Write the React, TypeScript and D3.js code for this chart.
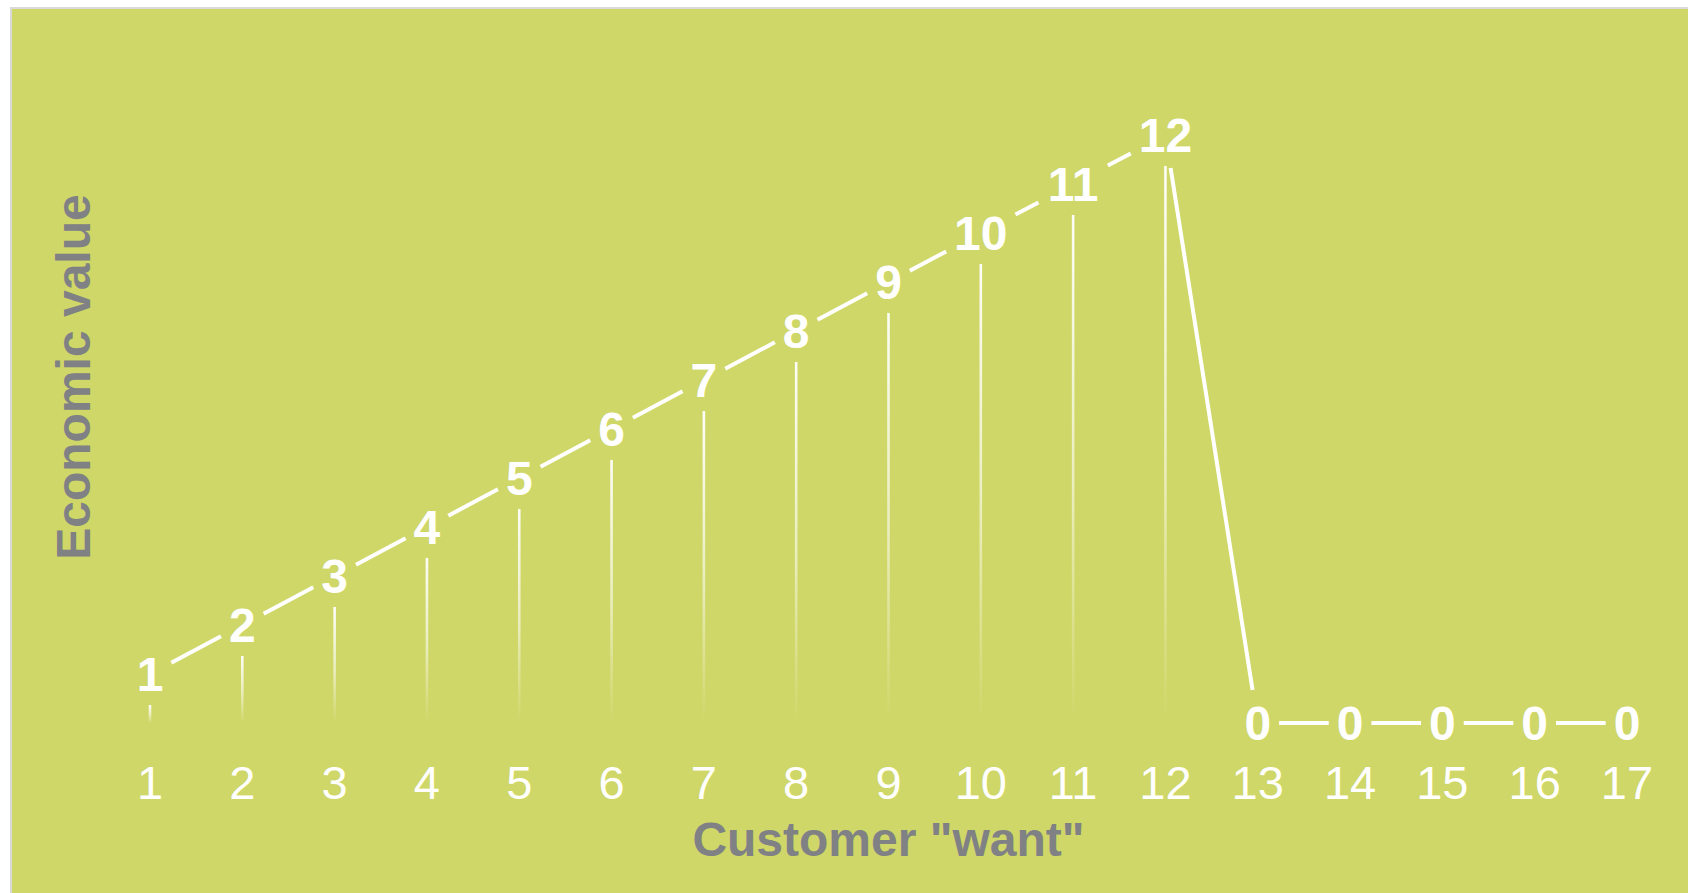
import React from "react";
import * as d3 from "d3";

// Customer "want" positions along the x axis
const wants: number[] = [1, 2, 3, 4, 5, 6, 7, 8, 9, 10, 11, 12, 13, 14, 15, 16, 17];
// Economic value delivered at each want
const values: number[] = [1, 2, 3, 4, 5, 6, 7, 8, 9, 10, 11, 12, 0, 0, 0, 0, 0];
const xTickLabels: string[] = wants.map((w) => String(w));
const xTitle = 'Customer "want"';
const yTitle = "Economic value";

const W = 1688;
const H = 893;
const BG = "#cfd768";
const TITLE = "#7f8184";
const FONT = "'Liberation Sans', Arial, Helvetica, sans-serif";

const plot = { left: 150, right: 1627, top: 31, bottom: 723 };
const valueFont = 48;
const tickFont = 47;
const titleFont = 48;

const x = d3.scaleLinear().domain([1, 17]).range([plot.left, plot.right]);
const y = d3.scaleLinear().domain([0, 12]).range([plot.bottom, 135]);

type Pt = { w: number; v: number; px: number; py: number; label: string };
const points: Pt[] = wants.map((w, i) => ({
  w,
  v: values[i],
  px: x(w),
  py: y(values[i]),
  label: String(values[i]),
}));

// half-extent of the gap kept clear around a value label
const gapX = (label: string) => (label.length * 0.556 * valueFont) / 2 + 8;
const gapY = 33;

function trimAt(p: Pt, ux: number, uy: number) {
  const a = Math.abs(ux) > 1e-6 ? gapX(p.label) / Math.abs(ux) : Infinity;
  const b = Math.abs(uy) > 1e-6 ? gapY / Math.abs(uy) : Infinity;
  return Math.min(a, b);
}

const segments = d3.pairs(points).map(([p, q]) => {
  const dx = q.px - p.px;
  const dy = q.py - p.py;
  const len = Math.hypot(dx, dy);
  const ux = dx / len;
  const uy = dy / len;
  const t0 = trimAt(p, ux, uy);
  const t1 = trimAt(q, ux, uy);
  return {
    key: `${p.w}-${q.w}`,
    x1: p.px + ux * t0,
    y1: p.py + uy * t0,
    x2: q.px - ux * t1,
    y2: q.py - uy * t1,
  };
});

const dropW = 2.6;
const dropGap = 31;

export default function App() {
  return (
    <svg
      width={W}
      height={H}
      style={{ position: "absolute", left: 0, top: 0, display: "block" }}
      xmlns="http://www.w3.org/2000/svg"
    >
      <defs>
        <linearGradient id="dropFade" x1="0" y1="0" x2="0" y2="1">
          <stop offset="0" stopColor="#ffffff" stopOpacity={0.95} />
          <stop offset="0.55" stopColor="#ffffff" stopOpacity={0.55} />
          <stop offset="1" stopColor="#ffffff" stopOpacity={0} />
        </linearGradient>
      </defs>
      <rect x={0} y={0} width={W} height={H} fill="#ffffff" />
      <rect x={11} y={8} width={W + 20} height={H + 20} fill={BG} stroke="#d9d9d9" strokeWidth={2} />

      {/* drop lines from each value down to the baseline */}
      {points
        .filter((p) => p.v > 0)
        .map((p) => {
          const top = p.py + dropGap;
          const bottom = y(0);
          return (
            <rect
              key={`drop-${p.w}`}
              x={p.px - dropW / 2}
              y={top}
              width={dropW}
              height={Math.max(0, bottom - top)}
              fill="url(#dropFade)"
            />
          );
        })}

      {/* value line, broken around each label */}
      {segments.map((s) => (
        <line
          key={s.key}
          x1={s.x1}
          y1={s.y1}
          x2={s.x2}
          y2={s.y2}
          stroke="#ffffff"
          strokeWidth={4}
          strokeLinecap="butt"
        />
      ))}

      {/* value labels */}
      {points.map((p) => (
        <text
          key={`val-${p.w}`}
          x={p.px}
          y={p.py + valueFont * 0.358}
          textAnchor="middle"
          fontFamily={FONT}
          fontWeight="bold"
          fontSize={valueFont}
          fill="#ffffff"
        >
          {p.label}
        </text>
      ))}

      {/* x tick labels */}
      {wants.map((w, i) => (
        <text
          key={`tick-${w}`}
          x={x(w)}
          y={y(0) + 76}
          textAnchor="middle"
          fontFamily={FONT}
          fontSize={tickFont}
          fill="#ffffff"
        >
          {xTickLabels[i]}
        </text>
      ))}

      {/* axis titles */}
      <text
        x={(plot.left + plot.right) / 2}
        y={856}
        textAnchor="middle"
        fontFamily={FONT}
        fontWeight="bold"
        fontSize={titleFont}
        fill={TITLE}
      >
        {xTitle}
      </text>
      <text
        transform={`translate(90, ${(plot.top + plot.bottom) / 2}) rotate(-90)`}
        textAnchor="middle"
        fontFamily={FONT}
        fontWeight="bold"
        fontSize={titleFont}
        fill={TITLE}
      >
        {yTitle}
      </text>
    </svg>
  );
}
